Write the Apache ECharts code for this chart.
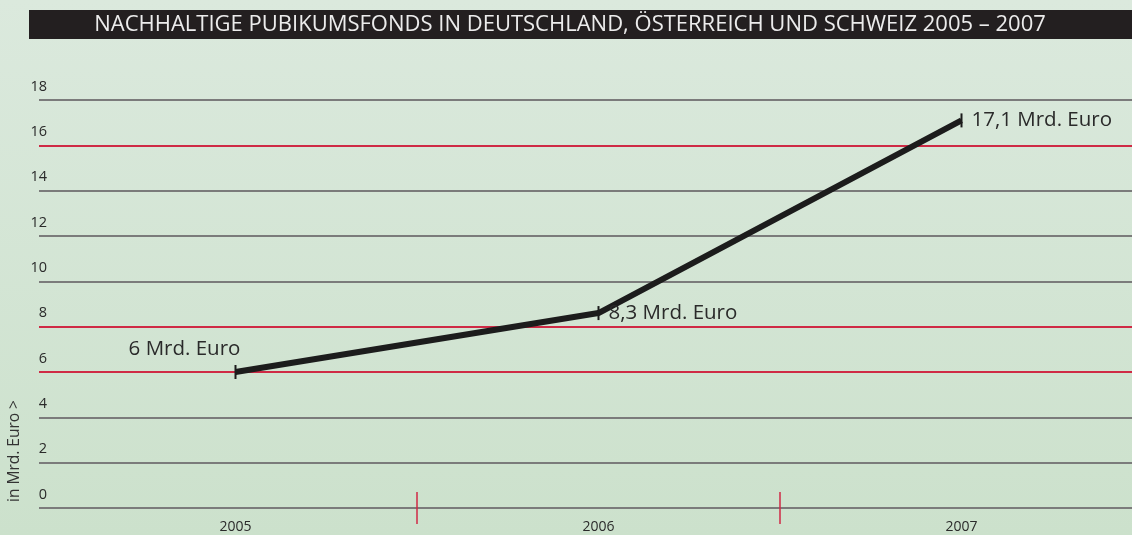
<!DOCTYPE html>
<html>
<head>
<meta charset="utf-8">
<script src="https://cdn.jsdelivr.net/npm/echarts@6/dist/echarts.min.js"></script>
<style>
  html, body { margin: 0; padding: 0; }
  #chart { width: 1132px; height: 535px; }
</style>
</head>
<body>
<div id="chart"></div>
<script>
// data
const years = ['2005', '2006', '2007']
const volumes = [6, 8.6, 17.1]
const pointLabels = ['6 Mrd. Euro', '8,3 Mrd. Euro', '17,1 Mrd. Euro']
const yMin = 0
const yMax = 18
const yStep = 2

const titleText = 'NACHHALTIGE PUBIKUMSFONDS IN DEUTSCHLAND, ÖSTERREICH UND SCHWEIZ 2005 – 2007'
const unitText = 'in Mrd. Euro >'

const font = '"Open Sans", "Noto Sans", sans-serif'
const grey = '#7b7b7b'
const red = '#cf2a45'

const chart = echarts.init(document.getElementById('chart'))

// red lines at 6, 8 and 16, grey elsewhere
const splitColors = []
for (let v = yMin; v <= yMax; v += yStep) {
  splitColors.push(v === 6 || v === 8 || v === 16 ? red : grey)
}

const labelPos = [
  { position: 'top', distance: 5, offset: [-51, 0] },
  { position: 'right', distance: 9 },
  { position: 'right', distance: 9 }
]

const option = {
  animation: false,
  backgroundColor: {
    type: 'linear', x: 0, y: 0, x2: 0, y2: 1,
    colorStops: [
      { offset: 0, color: '#dbe9dd' },
      { offset: 1, color: '#cce1cc' }
    ]
  },
  graphic: [
    {
      type: 'rect',
      z: -1,
      shape: { x: 29, y: 10, width: 1103, height: 29 },
      style: { fill: '#231f20' }
    },
    {
      type: 'text',
      x: 570,
      y: 25,
      style: {
        text: titleText,
        fontFamily: font,
        fontSize: 22,
        fill: '#ececec',
        align: 'center',
        verticalAlign: 'middle'
      }
    },
    {
      type: 'text',
      x: 15,
      y: 451,
      rotation: Math.PI / 2,
      style: {
        text: unitText,
        fontFamily: font,
        fontSize: 15.5,
        fill: '#333',
        align: 'center',
        verticalAlign: 'middle'
      }
    }
  ],
  grid: [
    { left: 39, right: 0, top: 100, bottom: 27, outerBoundsMode: 'none' },
    { left: 54, right: -11, top: 100, bottom: 27, outerBoundsMode: 'none' }
  ],
  xAxis: [
    { gridIndex: 0, type: 'value', min: 0, max: 1, show: false },
    {
      gridIndex: 1,
      type: 'category',
      data: years,
      axisLine: { show: false },
      axisTick: {
        show: true,
        length: 16,
        interval: (i) => i > 0,
        lineStyle: { color: red, width: 1.5 }
      },
      axisLabel: {
        margin: 12,
        fontFamily: font,
        fontSize: 14,
        color: '#2a2a2a'
      }
    },
    {
      gridIndex: 1,
      type: 'category',
      position: 'bottom',
      data: years,
      axisLine: { show: false },
      axisTick: {
        show: true,
        inside: true,
        length: 16,
        interval: (i) => i > 0,
        lineStyle: { color: red, width: 1.5 }
      },
      axisLabel: { show: false }
    }
  ],
  yAxis: [
    {
      gridIndex: 0,
      type: 'value',
      min: yMin,
      max: yMax,
      interval: yStep,
      axisLine: { show: false },
      axisTick: { show: false },
      axisLabel: {
        margin: -8,
        align: 'right',
        verticalAlign: 'bottom',
        padding: [0, 0, 6, 0],
        fontFamily: font,
        fontSize: 14.5,
        color: '#2a2a2a'
      },
      splitLine: {
        show: true,
        lineStyle: { color: splitColors, width: 2 }
      }
    },
    { gridIndex: 1, type: 'value', min: yMin, max: yMax, show: false }
  ],
  series: [
    {
      type: 'line',
      xAxisIndex: 1,
      yAxisIndex: 1,
      data: volumes.map((v, i) => ({
        value: v,
        label: Object.assign({ formatter: pointLabels[i] }, labelPos[i])
      })),
      symbol: 'rect',
      symbolSize: [2, 14],
      showAllSymbol: true,
      itemStyle: { color: '#1c1c1c' },
      lineStyle: { color: '#1c1c1c', width: 6 },
      label: {
        show: true,
        fontFamily: font,
        fontSize: 20.5,
        color: '#2a2a2a'
      },
      z: 5
    }
  ]
}

chart.setOption(option)
window.addEventListener('resize', () => chart.resize())
</script>
</body>
</html>
